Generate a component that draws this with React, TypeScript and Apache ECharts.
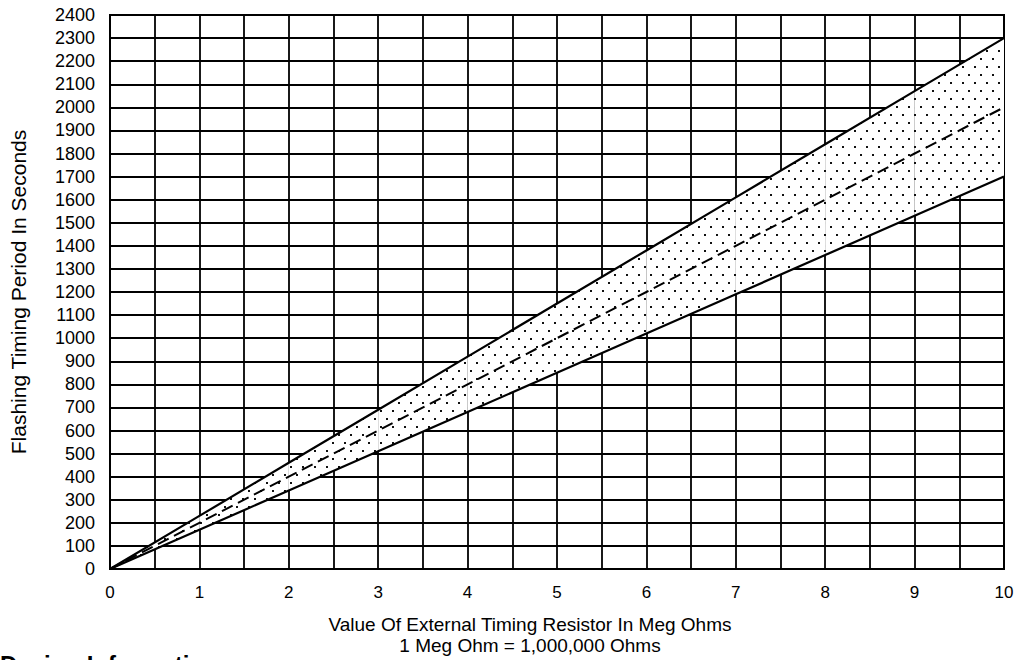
import { useEffect, useRef } from 'react';
import * as echarts from 'echarts';

const resistanceMegOhms = [0, 1, 2, 3, 4, 5, 6, 7, 8, 9, 10];
const upperPeriod = [0, 230, 460, 690, 920, 1150, 1380, 1610, 1840, 2070, 2300];
const typicalPeriod = [0, 200, 400, 600, 800, 1000, 1200, 1400, 1600, 1800, 2000];
const lowerPeriod = [0, 170, 340, 510, 680, 850, 1020, 1190, 1360, 1530, 1700];

const xAxisTitle = 'Value Of External Timing Resistor In Meg Ohms';
const xAxisSubtitle = '1 Meg Ohm = 1,000,000 Ohms';
const yAxisTitle = 'Flashing Timing Period In Seconds';
const sectionTitle = 'Design Information';

const FONT = '"Liberation Sans", Arial, Helvetica, sans-serif';

function makeDotPattern() {
  const c = document.createElement('canvas');
  c.width = 12;
  c.height = 16;
  const ctx = c.getContext('2d')!;
  ctx.fillStyle = '#ffffff';
  ctx.fillRect(0, 0, 12, 16);
  ctx.fillStyle = '#111111';
  ctx.fillRect(2, 2, 2, 2);
  ctx.fillRect(8, 10, 2, 2);
  return c;
}

export default function App() {
  const ref = useRef<HTMLDivElement>(null);
  useEffect(() => {
    if (!ref.current) return;
    const chart = echarts.init(ref.current, undefined, { renderer: 'svg' });
    const pattern = makeDotPattern();
    const pts = (vals: number[]) => resistanceMegOhms.map((x, i) => [x, vals[i]]);
    const bandSegments = resistanceMegOhms.slice(0, -1).map((x, i) => [
      x,
      resistanceMegOhms[i + 1],
      lowerPeriod[i],
      lowerPeriod[i + 1],
      upperPeriod[i],
      upperPeriod[i + 1],
    ]);
    chart.setOption({
      animation: false,
      backgroundColor: '#ffffff',
      grid: { left: 106, right: 18, top: 15, bottom: 91, show: true, borderColor: '#000', borderWidth: 2 },
      xAxis: {
        type: 'value',
        min: 0,
        max: 10,
        interval: 0.5,
        axisLine: { show: true, lineStyle: { color: '#000', width: 2 } },
        axisTick: { show: false },
        axisLabel: {
          color: '#000',
          fontFamily: FONT,
          fontSize: 17,
          margin: 15,
          formatter: (v: number) => (Number.isInteger(v) ? String(v) : ''),
        },
        splitLine: { show: true, lineStyle: { color: '#000', width: 1.8 } },
      },
      yAxis: {
        type: 'value',
        min: 0,
        max: 2400,
        interval: 100,
        name: yAxisTitle,
        nameLocation: 'middle',
        nameGap: 81,
        nameTextStyle: { color: '#000', fontFamily: FONT, fontSize: 21 },
        axisLine: { show: true, lineStyle: { color: '#000', width: 2 } },
        axisTick: { show: false },
        axisLabel: {
          color: '#000',
          fontFamily: FONT,
          fontSize: 18,
          margin: 15,
          formatter: (v: number) => String(v),
        },
        splitLine: { show: true, lineStyle: { color: '#000', width: 1.8 } },
      },
      series: [
        {
          name: 'Band',
          type: 'custom',
          data: bandSegments,
          encode: { x: [0, 1], y: [2, 3, 4, 5] },
          z: 2,
          renderItem: (params: any, api: any) => {
            const x0 = api.value(0);
            const x1 = api.value(1);
            const p1 = api.coord([x0, api.value(2)]);
            const p2 = api.coord([x1, api.value(3)]);
            const p3 = api.coord([x1, api.value(5)]);
            const p4 = api.coord([x0, api.value(4)]);
            return {
              type: 'polygon',
              shape: { points: [p1, p2, p3, p4] },
              style: { fill: { image: pattern, repeat: 'repeat', imageWidth: 12, imageHeight: 16 }, stroke: null },
            };
          },
        },
        {
          name: 'Lower',
          type: 'line',
          data: pts(lowerPeriod),
          symbol: 'none',
          lineStyle: { color: '#000', width: 2.2 },
          z: 3,
        },
        {
          name: 'Upper',
          type: 'line',
          data: pts(upperPeriod),
          symbol: 'none',
          lineStyle: { color: '#000', width: 2.2 },
          z: 3,
        },
        {
          name: 'Typical',
          type: 'line',
          data: pts(typicalPeriod),
          symbol: 'none',
          lineStyle: { color: '#000', width: 2, type: [12, 6] },
          z: 4,
        },
      ],
      graphic: [
        {
          type: 'text',
          x: 530,
          y: 624,
          style: { text: xAxisTitle, fill: '#000', font: `19px ${FONT}`, textAlign: 'center', textVerticalAlign: 'middle' },
        },
        {
          type: 'text',
          x: 530,
          y: 645,
          style: { text: xAxisSubtitle, fill: '#000', font: `19px ${FONT}`, textAlign: 'center', textVerticalAlign: 'middle' },
        },
        {
          type: 'text',
          x: 0,
          y: 652,
          style: { text: sectionTitle, fill: '#000', font: `bold 24px ${FONT}`, textAlign: 'left', textVerticalAlign: 'top' },
        },
      ],
    });
    return () => chart.dispose();
  }, []);
  return <div ref={ref} style={{ position: 'fixed', left: 0, top: 0, width: 1022, height: 660 }} />;
}
